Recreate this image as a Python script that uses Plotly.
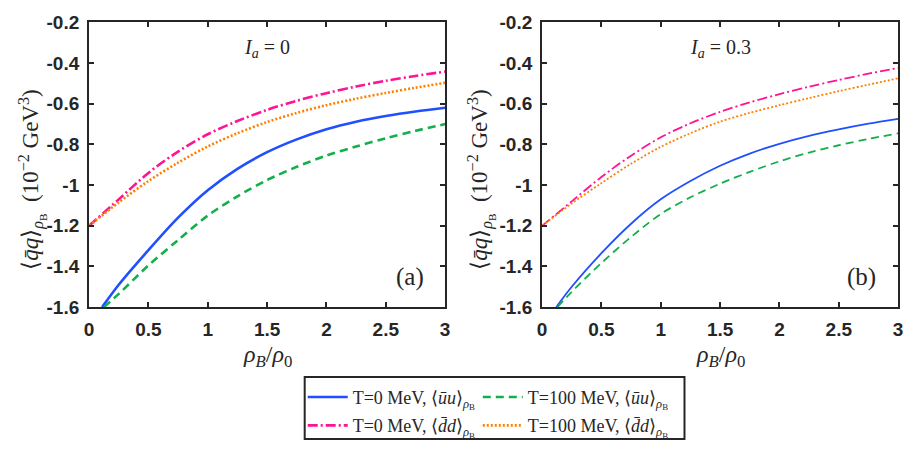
import plotly.graph_objects as go

# ---------------- data ----------------
x_full = [0, 0.25, 0.5, 0.75, 1.0, 1.25, 1.5, 1.75, 2.0, 2.25, 2.5, 2.75, 3.0]
x_tail = [0.25, 0.5, 0.75, 1.0, 1.25, 1.5, 1.75, 2.0, 2.25, 2.5, 2.75, 3.0]

# panel (a): I_a = 0
a_uu_T0_x = [0.11] + x_tail
a_uu_T0 = [-1.6, -1.49, -1.32, -1.16, -1.025, -0.92, -0.838, -0.775, -0.725, -0.688, -0.66, -0.638, -0.62]
a_uu_T100_x = [0.125] + x_tail
a_uu_T100 = [-1.6, -1.535, -1.395, -1.27, -1.15, -1.055, -0.975, -0.91, -0.855, -0.81, -0.77, -0.733, -0.70]
a_dd_T0 = [-1.2, -1.07, -0.94, -0.835, -0.75, -0.685, -0.63, -0.585, -0.548, -0.515, -0.487, -0.463, -0.442]
a_dd_T100 = [-1.2, -1.085, -0.98, -0.89, -0.81, -0.745, -0.69, -0.645, -0.607, -0.575, -0.547, -0.521, -0.497]

# panel (b): I_a = 0.3
b_uu_T0_x = [0.12] + x_tail
b_uu_T0 = [-1.6, -1.5, -1.335, -1.19, -1.07, -0.98, -0.905, -0.845, -0.797, -0.758, -0.726, -0.698, -0.674]
b_uu_T100_x = [0.13] + x_tail
b_uu_T100 = [-1.6, -1.525, -1.383, -1.255, -1.142, -1.06, -0.993, -0.935, -0.883, -0.84, -0.804, -0.773, -0.746]
b_dd_T0 = [-1.2, -1.08, -0.96, -0.855, -0.765, -0.696, -0.64, -0.593, -0.553, -0.516, -0.483, -0.452, -0.424]
b_dd_T100 = [-1.2, -1.09, -0.99, -0.895, -0.812, -0.745, -0.688, -0.645, -0.607, -0.572, -0.538, -0.506, -0.475]

x_tickvals = [0, 0.5, 1, 1.5, 2, 2.5, 3]
x_ticktext = ["0", "0.5", "1", "1.5", "2", "2.5", "3"]
y_tickvals = [-1.6, -1.4, -1.2, -1.0, -0.8, -0.6, -0.4, -0.2]
y_ticktext = ["-1.6", "-1.4", "-1.2", "-1", "-0.8", "-0.6", "-0.4", "-0.2"]

names = [
    "T=0 MeV, ⟨<i>ūu</i>⟩<sub><i>ρ</i><sub>B</sub></sub>",
    "T=100 MeV, ⟨<i>ūu</i>⟩<sub><i>ρ</i><sub>B</sub></sub>",
    "T=0 MeV, ⟨<i>d̄d</i>⟩<sub><i>ρ</i><sub>B</sub></sub>",
    "T=100 MeV, ⟨<i>d̄d</i>⟩<sub><i>ρ</i><sub>B</sub></sub>",
]
colors = ["#1f4fff", "#12b04a", "#ff1493", "#ff8000"]
dashes = ["solid", "8px,5px", "10px,3px,2px,3px", "2px,2px"]
# legend columns: left column (T=0), right column (T=100)
legends = ["legend", "legend2", "legend", "legend2"]

SERIF = "Liberation Serif"
SANS = "Liberation Sans"
INK = "#262626"

fig = go.Figure()

panels = [
    ("x", "y", [(a_uu_T0_x, a_uu_T0), (a_uu_T100_x, a_uu_T100), (x_full, a_dd_T0), (x_full, a_dd_T100)], 2.6, True),
    ("x2", "y2", [(b_uu_T0_x, b_uu_T0), (b_uu_T100_x, b_uu_T100), (x_full, b_dd_T0), (x_full, b_dd_T100)], 1.8, False),
]
for xa, ya, series, lw, show in panels:
    for i, (xs, ys) in enumerate(series):
        fig.add_trace(go.Scatter(
            x=xs, y=ys, mode="lines", name=names[i], xaxis=xa, yaxis=ya,
            line=dict(color=colors[i], width=lw, dash=dashes[i], shape="spline", smoothing=0.9),
            showlegend=show, legend=legends[i], legendgroup="g%d" % i,
        ))

axis_common = dict(
    showline=True, linecolor=INK, linewidth=2, mirror="ticks",
    ticks="inside", ticklen=5, tickwidth=2, tickcolor=INK,
    showgrid=False, zeroline=False, ticklabelstandoff=4,
    tickfont=dict(family=SANS, size=19, color=INK, weight="bold"),
)
xd1 = [85 / 915, 445 / 915]
xd2 = [543 / 915, 903 / 915]
yd = [1 - 311 / 471, 1 - 13 / 471]

leg_common = dict(orientation="v", y=1 - 386 / 471, yanchor="top", tracegroupgap=2,
                  font=dict(family=SERIF, size=18, color=INK),
                  bgcolor="rgba(0,0,0,0)", borderwidth=0, itemwidth=40)

fig.update_layout(
    width=915, height=471,
    margin=dict(l=0, r=0, t=0, b=0),
    paper_bgcolor="white", plot_bgcolor="white",
    xaxis=dict(domain=xd1, range=[0, 3], anchor="y", tickvals=x_tickvals, ticktext=x_ticktext, **axis_common),
    yaxis=dict(domain=yd, range=[-1.6, -0.2], anchor="x", tickvals=y_tickvals, ticktext=y_ticktext, **axis_common),
    xaxis2=dict(domain=xd2, range=[0, 3], anchor="y2", tickvals=x_tickvals, ticktext=x_ticktext, **axis_common),
    yaxis2=dict(domain=yd, range=[-1.6, -0.2], anchor="x2", tickvals=y_tickvals, ticktext=y_ticktext, **axis_common),
    legend=dict(x=301 / 915, xanchor="left", **leg_common),
    legend2=dict(x=478 / 915, xanchor="left", **leg_common),
    showlegend=True,
)

# legend frame
fig.add_shape(type="rect", xref="paper", yref="paper",
              x0=303 / 915, x1=687 / 915, y0=1 - 449 / 471, y1=1 - 384 / 471,
              line=dict(color=INK, width=2), fillcolor="rgba(0,0,0,0)")

ytitle = "⟨<i>q̄q</i>⟩<sub><i>ρ</i><sub>B</sub></sub>  (10<sup>−2</sup> GeV<sup>3</sup>)"
xtitle = "<i>ρ</i><sub><i>B</i></sub>/<i>ρ</i><sub>0</sub>"
tfont = dict(family=SERIF, size=23, color=INK)

for xc in [27 / 915, 481 / 915]:
    fig.add_annotation(text=ytitle, xref="paper", yref="paper", x=xc, y=1 - 178 / 471,
                       textangle=-90, showarrow=False, font=tfont, xanchor="center", yanchor="middle")
for xa in ["x", "x2"]:
    fig.add_annotation(text=xtitle, xref=xa + " domain", yref="paper", x=0.5, y=1 - 362 / 471,
                       showarrow=False, font=dict(family=SERIF, size=24, color=INK),
                       xanchor="center", yanchor="middle")

fig.add_annotation(text="<i>I</i><sub><i>a</i></sub> = 0", xref="x", yref="y", x=1.5, y=-0.33,
                   showarrow=False, font=dict(family=SERIF, size=20, color=INK))
fig.add_annotation(text="<i>I</i><sub><i>a</i></sub> = 0.3", xref="x2", yref="y2", x=1.5, y=-0.33,
                   showarrow=False, font=dict(family=SERIF, size=20, color=INK))
fig.add_annotation(text="(a)", xref="x", yref="y", x=2.7, y=-1.45,
                   showarrow=False, font=dict(family=SERIF, size=25, color=INK))
fig.add_annotation(text="(b)", xref="x2", yref="y2", x=2.69, y=-1.45,
                   showarrow=False, font=dict(family=SERIF, size=25, color=INK))

fig.write_html("out.html")
